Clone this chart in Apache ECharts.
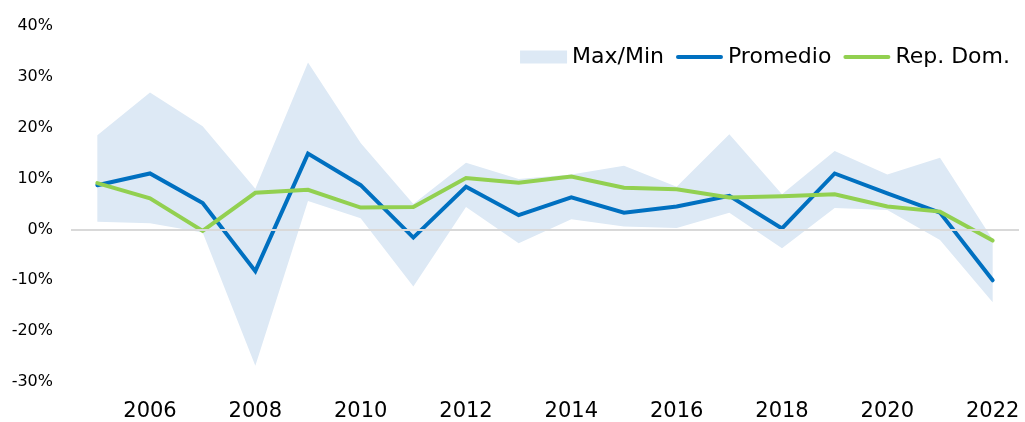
<!DOCTYPE html>
<html>
<head>
<meta charset="utf-8">
<script src="https://cdn.jsdelivr.net/npm/echarts@6/dist/echarts.min.js"></script>
<style>
html,body{margin:0;padding:0;background:#fff;}
#chart{width:1025px;height:422px;}
</style>
</head>
<body>
<div id="chart"></div>
<script>
const years = ['2005','2006','2007','2008','2009','2010','2011','2012','2013','2014','2015','2016','2017','2018','2019','2020','2021','2022'];
const maxValues = [18.5, 26.9, 20.3, 8.0, 32.8, 17.0, 5.0, 13.1, 9.9, 10.8, 12.5, 8.4, 18.7, 6.9, 15.4, 10.8, 14.1, -2.0];
const minValues = [1.5, 1.2, -0.6, -26.8, 5.6, 2.2, -11.2, 4.4, -2.7, 2.0, 0.6, 0.3, 3.3, -3.7, 4.2, 3.8, -2.1, -14.3];
const promedio = [8.7, 11.0, 5.2, -8.2, 14.9, 8.7, -1.6, 8.4, 2.8, 6.3, 3.3, 4.5, 6.6, 0.2, 11.0, 7.1, 3.3, -10.0];
const repDom = [9.1, 6.1, -0.3, 7.2, 7.8, 4.3, 4.4, 10.1, 9.2, 10.4, 8.2, 7.9, 6.3, 6.5, 6.9, 4.5, 3.5, -2.2];

const bandRange = maxValues.map((v, i) => +(v - minValues[i]).toFixed(2));

const lineIcon = 'path://M2,0 L45,0 A2,2 0 0 1 45,4 L2,4 A2,2 0 0 1 2,0 Z';

const chart = echarts.init(document.getElementById('chart'), null, {renderer: 'canvas'});
chart.setOption({
  animation: false,
  textStyle: {fontFamily: 'DejaVu Sans'},
  grid: {left: 71, right: 6, top: 26, bottom: 38, containLabel: false},
  legend: {
    right: 10, top: 41,
    itemWidth: 47, itemHeight: 13, itemGap: 12,
    textStyle: {fontSize: 22, color: '#000', fontFamily: 'DejaVu Sans'},
    data: [
      {name: 'Max/Min', icon: 'rect'},
      {name: 'Promedio', icon: lineIcon},
      {name: 'Rep. Dom.', icon: lineIcon}
    ]
  },
  xAxis: {
    type: 'category',
    data: years,
    boundaryGap: true,
    axisLine: {show: false, onZero: false},
    axisTick: {show: false},
    splitLine: {show: false},
    axisLabel: {
      interval: function (index) { return index % 2 === 1; },
      fontSize: 21, color: '#000', margin: 19
    }
  },
  yAxis: {
    type: 'value',
    min: -30, max: 40, interval: 10,
    axisLine: {show: false},
    axisTick: {show: false},
    splitLine: {show: false},
    axisLabel: {formatter: '{value}%', fontSize: 16, color: '#000', margin: 18}
  },
  series: [
    {
      name: 'minBase',
      type: 'line',
      data: minValues,
      stack: 'band',
      stackStrategy: 'all',
      symbol: 'none',
      lineStyle: {opacity: 0},
      silent: true,
      z: 1,
      markLine: {
        silent: true,
        symbol: 'none',
        label: {show: false},
        lineStyle: {color: '#d9d9d9', type: 'solid', width: 2},
        data: [{yAxis: 0}]
      }
    },
    {
      name: 'Max/Min',
      type: 'line',
      data: bandRange,
      stack: 'band',
      stackStrategy: 'all',
      symbol: 'none',
      itemStyle: {color: '#dde9f5'},
      lineStyle: {opacity: 0},
      areaStyle: {color: '#dde9f5', opacity: 1},
      silent: true,
      z: 0
    },
    {
      name: 'Promedio',
      type: 'line',
      data: promedio,
      symbol: 'none',
      itemStyle: {color: '#0070c0'},
      lineStyle: {color: '#0070c0', width: 4, cap: 'round', join: 'miter'},
      z: 3
    },
    {
      name: 'Rep. Dom.',
      type: 'line',
      data: repDom,
      symbol: 'none',
      itemStyle: {color: '#92d050'},
      lineStyle: {color: '#92d050', width: 4, cap: 'round', join: 'miter'},
      z: 4
    }
  ]
});
</script>
</body>
</html>
